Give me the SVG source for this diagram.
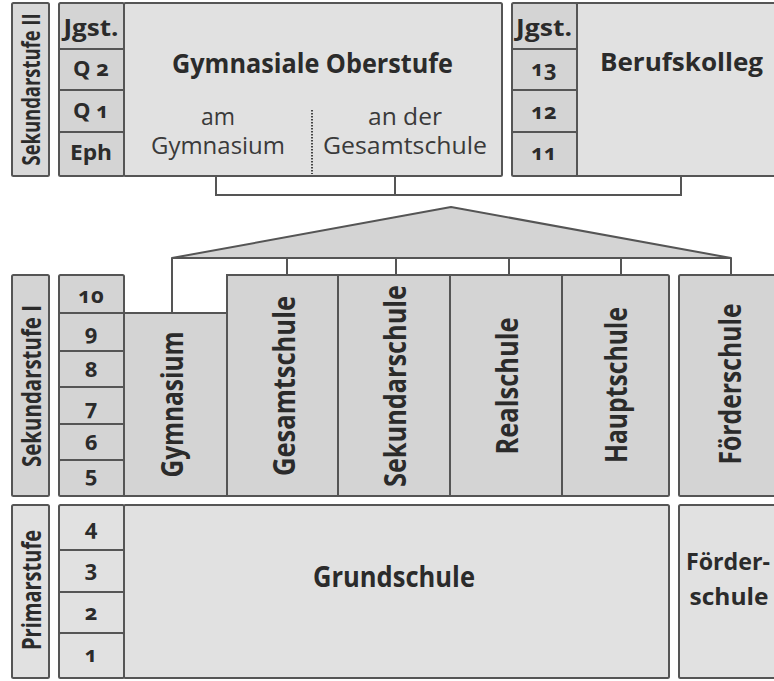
<svg xmlns="http://www.w3.org/2000/svg" width="774" height="681" viewBox="0 0 774 681">
<style>
.box{stroke:#555;stroke-width:2}
.dk{fill:#d4d4d4}
.lt{fill:#e1e1e1}
.md{fill:#d9d9d9}
.t{font-family:"Open Sans","Noto Sans","DejaVu Sans",sans-serif;font-weight:700;fill:#2b2b2b}
.r{font-weight:400;fill:#3a3a3a}
.num{font-variant-numeric:oldstyle-nums;font-feature-settings:"onum" 1}
.ln{stroke:#555;stroke-width:2;fill:none}
.dot{stroke:#444;stroke-width:2;stroke-dasharray:1.5 1.5;fill:none}
</style>
<rect width="774" height="681" fill="#fff"/>

<!-- Sekundarstufe II -->
<g id="sek2-label">
<rect class="box md" x="12" y="3" width="37" height="173" rx="1.5"/>
<text class="t" transform="translate(40,89.5) rotate(-90)" text-anchor="middle" font-size="25" textLength="152" lengthAdjust="spacingAndGlyphs">Sekundarstufe II</text>
</g>
<g id="sek2-gym-grades">
<rect class="box dk" x="59" y="3" width="65" height="46" rx="1.5"/>
<rect class="box dk" x="59" y="49" width="65" height="41"/>
<rect class="box dk" x="59" y="90" width="65" height="42"/>
<rect class="box dk" x="59" y="132" width="65" height="44" rx="1.5"/>
<text class="t" x="91" y="36" text-anchor="middle" font-size="23" textLength="55" lengthAdjust="spacingAndGlyphs">Jgst.</text>
<text class="t num" x="91" y="76" text-anchor="middle" font-size="22">Q 2</text>
<text class="t num" x="91" y="118" text-anchor="middle" font-size="22">Q 1</text>
<text class="t" x="91" y="160" text-anchor="middle" font-size="22" textLength="42" lengthAdjust="spacingAndGlyphs">Eph</text>
</g>
<g id="gymnasiale-oberstufe">
<rect class="box lt" x="124" y="3" width="378" height="173" rx="1.5"/>
<text class="t" x="312.5" y="73" text-anchor="middle" font-size="26" textLength="281" lengthAdjust="spacingAndGlyphs">Gymnasiale Oberstufe</text>
<line class="dot" x1="312" y1="110" x2="312" y2="174"/>
<text class="t r" x="218" y="125" text-anchor="middle" font-size="23" textLength="34" lengthAdjust="spacingAndGlyphs">am</text>
<text class="t r" x="218" y="154" text-anchor="middle" font-size="23" textLength="134" lengthAdjust="spacingAndGlyphs">Gymnasium</text>
<text class="t r" x="405" y="125" text-anchor="middle" font-size="23" textLength="74" lengthAdjust="spacingAndGlyphs">an der</text>
<text class="t r" x="405" y="154" text-anchor="middle" font-size="23" textLength="164" lengthAdjust="spacingAndGlyphs">Gesamtschule</text>
</g>
<g id="berufskolleg-grades">
<rect class="box dk" x="512" y="3" width="65" height="46" rx="1.5"/>
<rect class="box dk" x="512" y="49" width="65" height="41"/>
<rect class="box dk" x="512" y="90" width="65" height="42"/>
<rect class="box dk" x="512" y="132" width="65" height="44" rx="1.5"/>
<text class="t" x="544" y="36" text-anchor="middle" font-size="23" textLength="56" lengthAdjust="spacingAndGlyphs">Jgst.</text>
<text class="t num" x="544" y="76" text-anchor="middle" font-size="22">13</text>
<text class="t num" x="544" y="119" text-anchor="middle" font-size="22">12</text>
<text class="t num" x="544" y="160" text-anchor="middle" font-size="22">11</text>
</g>
<g id="berufskolleg">
<rect class="box lt" x="577" y="3" width="215" height="173"/>
<text class="t" x="681.5" y="71" text-anchor="middle" font-size="25" textLength="163" lengthAdjust="spacingAndGlyphs">Berufskolleg</text>
</g>

<!-- Sekundarstufe I -->
<g id="sek1-label">
<rect class="box dk" x="12" y="275" width="37" height="221" rx="1.5"/>
<text class="t" transform="translate(41,386) rotate(-90)" text-anchor="middle" font-size="27" textLength="162" lengthAdjust="spacingAndGlyphs">Sekundarstufe I</text>
</g>
<g id="sek1-grades">
<rect class="box dk" x="59" y="275" width="65" height="38" rx="1.5"/>
<rect class="box dk" x="59" y="313" width="65" height="38"/>
<rect class="box dk" x="59" y="351" width="65" height="36"/>
<rect class="box dk" x="59" y="387" width="65" height="37"/>
<rect class="box dk" x="59" y="424" width="65" height="36"/>
<rect class="box dk" x="59" y="460" width="65" height="36" rx="1.5"/>
<text class="t num" x="91" y="303" text-anchor="middle" font-size="22">10</text>
<text class="t num" x="91" y="340" text-anchor="middle" font-size="22">9</text>
<text class="t num" x="91" y="377" text-anchor="middle" font-size="22">8</text>
<text class="t num" x="91" y="415" text-anchor="middle" font-size="22">7</text>
<text class="t num" x="91" y="450" text-anchor="middle" font-size="22">6</text>
<text class="t num" x="91" y="482" text-anchor="middle" font-size="22">5</text>
</g>
<g id="gymnasium">
<rect class="box dk" x="124" y="313" width="103" height="183"/>
<text class="t" transform="translate(183,404.5) rotate(-90)" text-anchor="middle" font-size="31" textLength="146" lengthAdjust="spacingAndGlyphs">Gymnasium</text>
</g>
<g id="gesamtschule">
<rect class="box dk" x="227" y="275" width="111" height="221"/>
<text class="t" transform="translate(295,386) rotate(-90)" text-anchor="middle" font-size="31" textLength="180" lengthAdjust="spacingAndGlyphs">Gesamtschule</text>
</g>
<g id="sekundarschule">
<rect class="box dk" x="338" y="275" width="112" height="221"/>
<text class="t" transform="translate(406,386) rotate(-90)" text-anchor="middle" font-size="31" textLength="202" lengthAdjust="spacingAndGlyphs">Sekundarschule</text>
</g>
<g id="realschule">
<rect class="box dk" x="450" y="275" width="112" height="221"/>
<text class="t" transform="translate(518,386) rotate(-90)" text-anchor="middle" font-size="31" textLength="137" lengthAdjust="spacingAndGlyphs">Realschule</text>
</g>
<g id="hauptschule">
<rect class="box dk" x="562" y="275" width="107" height="221" rx="1.5"/>
<text class="t" transform="translate(627,385) rotate(-90)" text-anchor="middle" font-size="31" textLength="156" lengthAdjust="spacingAndGlyphs">Hauptschule</text>
</g>
<g id="foerderschule-sek1">
<rect class="box dk" x="679" y="275" width="113" height="221" rx="1.5"/>
<text class="t" transform="translate(741,384) rotate(-90)" text-anchor="middle" font-size="31" textLength="161" lengthAdjust="spacingAndGlyphs">Förderschule</text>
</g>

<!-- Primarstufe -->
<g id="prim-label">
<rect class="box lt" x="12" y="505" width="37" height="173" rx="1.5"/>
<text class="t" transform="translate(41,590) rotate(-90)" text-anchor="middle" font-size="27" textLength="120" lengthAdjust="spacingAndGlyphs">Primarstufe</text>
</g>
<g id="prim-grades">
<rect class="box lt" x="59" y="505" width="65" height="45" rx="1.5"/>
<rect class="box lt" x="59" y="550" width="65" height="42"/>
<rect class="box lt" x="59" y="592" width="65" height="41"/>
<rect class="box lt" x="59" y="633" width="65" height="45" rx="1.5"/>
<text class="t num" x="91" y="535" text-anchor="middle" font-size="22">4</text>
<text class="t num" x="91" y="576" text-anchor="middle" font-size="22">3</text>
<text class="t num" x="91" y="620" text-anchor="middle" font-size="22">2</text>
<text class="t num" x="91" y="662" text-anchor="middle" font-size="22">1</text>
</g>
<g id="grundschule">
<rect class="box lt" x="124" y="505" width="545" height="173" rx="1.5"/>
<text class="t" x="394" y="587" text-anchor="middle" font-size="29" textLength="162" lengthAdjust="spacingAndGlyphs">Grundschule</text>
</g>
<g id="foerderschule-prim">
<rect class="box lt" x="679" y="505" width="113" height="173" rx="1.5"/>
<text class="t" x="728" y="570" text-anchor="middle" font-size="24" textLength="84" lengthAdjust="spacingAndGlyphs">Förder-</text>
<text class="t" x="729" y="605" text-anchor="middle" font-size="24" textLength="79" lengthAdjust="spacingAndGlyphs">schule</text>
</g>

<!-- Connectors -->
<g id="connectors">
<polyline class="ln" points="216,176 216,195 681,195 681,176"/>
<line class="ln" x1="395" y1="176" x2="395" y2="195"/>
<polygon points="172,258 451,207 731,258" fill="#d4d4d4" stroke="#555" stroke-width="2" stroke-linejoin="round"/>
<line class="ln" x1="172" y1="258" x2="172" y2="313"/>
<line class="ln" x1="287" y1="258" x2="287" y2="275"/>
<line class="ln" x1="396" y1="258" x2="396" y2="275"/>
<line class="ln" x1="509" y1="258" x2="509" y2="275"/>
<line class="ln" x1="621" y1="258" x2="621" y2="275"/>
<line class="ln" x1="731" y1="258" x2="731" y2="275"/>
</g>
</svg>
